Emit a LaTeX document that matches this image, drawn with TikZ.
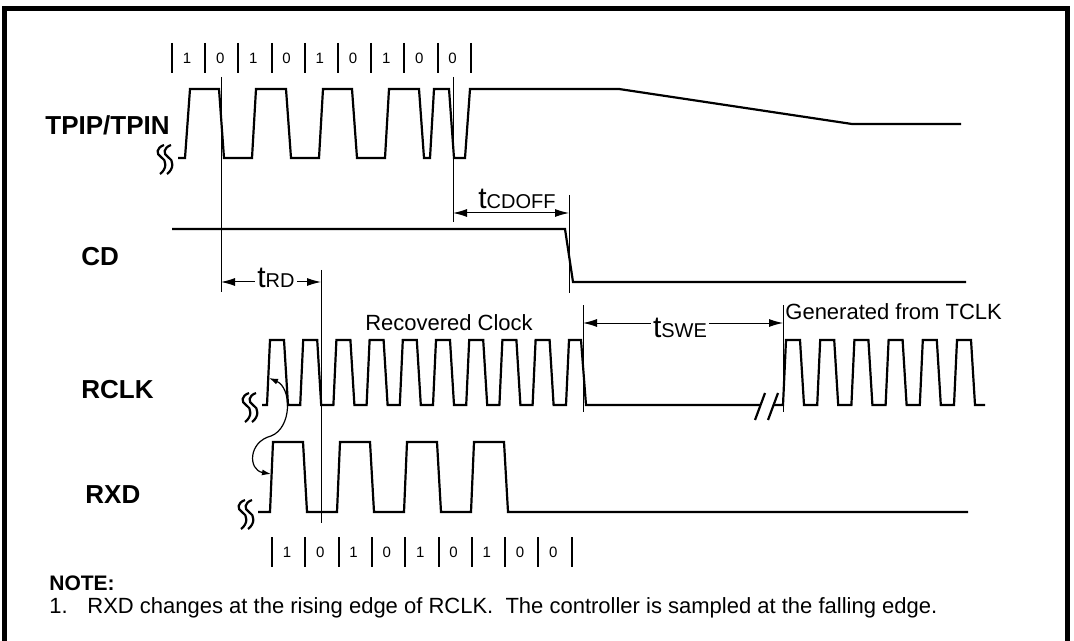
\documentclass[tikz,border=0pt]{standalone}
\usepackage{fontspec}
\setmainfont{Liberation Sans}
\usetikzlibrary{arrows.meta, calc, positioning}

\tikzset{
  wave/.style={line width=1.1pt, line join=miter},
  guide/.style={line width=0.5pt},
  bittick/.style={line width=1pt},
  span/.style={guide, {Latex[length=7pt,width=4pt]}-{Latex[length=7pt,width=4pt]}},
  siglabel/.style={anchor=west, inner sep=0pt, font=\bfseries\fontsize{13}{13}\selectfont},
  txt/.style={inner sep=0pt, font=\fontsize{11}{11}\selectfont},
  bitval/.style={inner sep=0pt, font=\fontsize{7.5}{7.5}\selectfont},
}
\newcommand{\tparam}[1]{{\fontsize{15}{15}\selectfont t}{\fontsize{10}{10}\selectfont #1}}
\newcommand{\wavebreak}[2]{%
  \begin{scope}[shift={(#1,#2)}, line width=1.1pt]
    \foreach \dx in {0,7}
      \draw (8+\dx,0) .. controls (\dx,3) and (\dx,9) .. (5+\dx,12)
            .. controls (11+\dx,15) and (11+\dx,24) .. (4+\dx,29);
  \end{scope}}

\begin{document}
\begin{tikzpicture}[x=0.5pt, y=-0.5pt]
    \useasboundingbox (0,0) rectangle (1074,641);
    \draw[line width=2.6pt] (4.5,645) -- (4.5,8.5) -- (1067.5,8.5) -- (1067.5,645);

    % signal names
    \node[siglabel] (lbltp) at (45,125) {TPIP/TPIN};
    \node[siglabel] (lblcd) at (81,257) {CD};
    \node[siglabel] (lblrclk) at (81,390) {RCLK};
    \node[siglabel] (lblrxd) at (85,495) {RXD};

    % bit cells, top
    \foreach \i in {0,...,9}
      \draw[bittick] ({172+33.2*\i},43) -- ({172+33.2*\i},73);
    \foreach \b [count=\i from 0] in {1,0,1,0,1,0,1,0,0}
      \node[bitval] (tb\i) at ({187+33.2*\i},58) {\b};

    % TPIP/TPIN
    \wavebreak{156}{145}
    \draw[wave] (178,158) -- (185,158) -- (190,89) -- (219,89) -- (224,158)
        -- (252,158) -- (256,89) -- (286,89) -- (291,158)
        -- (319,158) -- (323,89) -- (352,89) -- (357,158)
        -- (385,158) -- (389,89) -- (419,89) -- (424,158)
        -- (430,158) -- (434,89) -- (449,89) -- (454,158)
        -- (465,158) -- (470,89) -- (619,89) -- (852,124) -- (961,124);

    % CD
    \draw[wave] (172,229) -- (565,229) -- (573,282) -- (966,282);

    % RCLK
    \wavebreak{241}{393}
    \draw[wave] (262,405)
      \foreach \k in {0,...,8} { -- ({267+33.2*\k},405) -- ({270+33.2*\k},340)
                                 -- ({284+33.2*\k},340) -- ({288+33.2*\k},405) }
      -- (566,405) -- (569,340) -- (581,340) -- (586,405) -- (760,405);
    \draw[wave] (755,420) -- (765,393);
    \draw[wave] (768,420) -- (778,393);
    \draw[wave] (773,405)
      \foreach \k in {0,...,5} { -- ({783+34.2*\k},405) -- ({786+34.2*\k},340)
                                 -- ({800+34.2*\k},340) -- ({804+34.2*\k},405) }
      -- (985,405);

    % RXD
    \wavebreak{237}{500}
    \draw[wave] (258,512)
      \foreach \k in {0,...,3} { -- ({270+67*\k},512) -- ({273+67*\k},442)
                                 -- ({303+67*\k},442) -- ({307+67*\k},512) }
      -- (968,512);

    % bit cells, bottom
    \foreach \i in {0,...,9}
      \draw[bittick] ({272+33.3*\i},537) -- ({272+33.3*\i},567);
    \foreach \b [count=\i from 0] in {1,0,1,0,1,0,1,0,0}
      \node[bitval] (bb\i) at ({287+33.3*\i},552) {\b};

    % timing guides
    \coordinate (rdA) at (221,282);
    \coordinate (rdB) at (321,282);
    \coordinate (cdA) at (453,213);
    \coordinate (cdB) at (569,213);
    \coordinate (swA) at (583,323);
    \coordinate (swB) at (783,323);
    \draw[guide] (221,77) -- (221,292);
    \draw[guide] (453,77) -- (453,222);
    \draw[guide] (569,195) -- (569,293);
    \draw[guide] (321,270) -- (321,523);
    \draw[guide] (583,305) -- (583,412);
    \draw[guide] (783,305) -- (783,412);

    \draw[span] (rdA) -- (rdB);
    \node[txt, anchor=base, fill=white, inner xsep=1pt] (trd) at (276,288) {\tparam{RD}};
    \draw[span] (cdA) -- (cdB);
    \node[txt, anchor=base] (tcdoff) at (517,209) {\tparam{CDOFF}};
    \draw[span] (swA) -- (swB);
    \node[txt, anchor=base, fill=white, inner xsep=1pt] (tswe) at (680,337) {\tparam{SWE}};

    \node[txt, anchor=base] (recclk) at (449,330) {Recovered Clock};
    \node[txt, anchor=base west] (genclk) at (785,319) {Generated from TCLK};

    % edge relation
    \coordinate (rclkup) at (269,378);
    \coordinate (rxdup) at (271,474);
    \draw[line width=0.6pt, {Latex[length=4.5pt,width=3pt]}-{Latex[length=4.5pt,width=3pt]}]
      (rclkup) .. controls (292,388) and (292,428) .. (271,436)
      .. controls (248,442) and (248,470) .. (rxdup);

    % note
    \node[anchor=base west, inner sep=0pt, font=\bfseries\fontsize{10.5}{10.5}\selectfont]
      (notehead) at (49,590) {NOTE:};
    \node[txt, anchor=base west] (notetext) at (49,613)
      {\makebox[19pt][l]{1.}RXD changes at the rising edge of RCLK.\ \ The controller is sampled at the falling edge.};
\end{tikzpicture}
\end{document}
